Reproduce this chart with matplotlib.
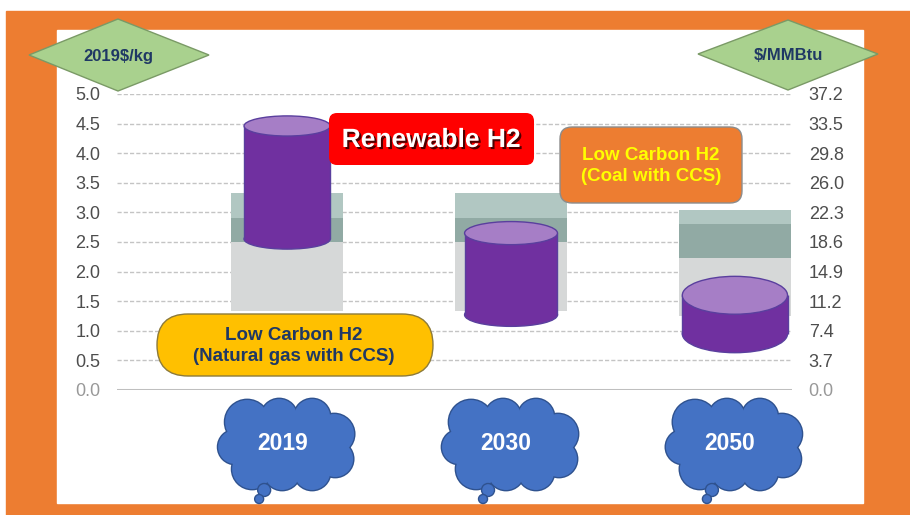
import matplotlib
matplotlib.use("Agg")
import matplotlib.pyplot as plt
import matplotlib.patheffects as pe
from matplotlib.patches import Rectangle, Ellipse, Polygon, FancyBboxPatch, Circle
import numpy as np

plt.rcParams['font.family'] = ['Liberation Sans', 'DejaVu Sans']

# data ($/kg, 2019 dollars)
years = ["2019", "2030", "2050"]
ng_ccs_low = [1.33, 1.33, 1.25]
ng_ccs_high = [2.91, 2.91, 2.80]
coal_ccs_low = [2.50, 2.50, 2.23]
coal_ccs_high = [3.33, 3.33, 3.04]
renew_low = [2.55, 1.27, 0.95]
renew_high = [4.46, 2.65, 1.60]
kg_to_mmbtu = 7.44
left_ticks = [0.0, 0.5, 1.0, 1.5, 2.0, 2.5, 3.0, 3.5, 4.0, 4.5, 5.0]

# cylinder look (perspective differs per cylinder)
cyl_width = [0.385, 0.415, 0.47]
cyl_cap = [0.34, 0.39, 0.64]

W, H = 910, 515
fig = plt.figure(figsize=(9.1, 5.15), dpi=100)

# orange frame + white panel
bg = fig.add_axes([0, 0, 1, 1])
bg.set_xlim(0, W)
bg.set_ylim(H, 0)
bg.axis('off')
bg.set_zorder(0)
bg.add_patch(Rectangle((6, 11), 904, 504, color='#ED7D31'))
bg.add_patch(Rectangle((57, 30), 806, 473, color='white'))

ax = fig.add_axes([117 / W, (H - 390) / H, (792 - 117) / W, (390 - 94) / H])
ax.set_zorder(1)
ax.patch.set_alpha(0)
x = np.arange(len(years))
ax.set_xlim(-0.76, 2.255)
ax.set_ylim(0, 5)

ax.grid(axis='y', color='#C4C4C4', lw=1, ls=(0, (3, 1.5)), zorder=0)
ax.set_axisbelow(True)
ax.axhline(0, color='#BFBFBF', lw=2.2, zorder=1)

ng_low = np.array(ng_ccs_low)
ng_high = np.array(ng_ccs_high)
c_low = np.array(coal_ccs_low)
c_high = np.array(coal_ccs_high)
ax.bar(x, c_low - ng_low, bottom=ng_low, width=0.5, color='#D6D8D8', zorder=2)
ax.bar(x, ng_high - c_low, bottom=c_low, width=0.5, color='#91AAA4', zorder=2)
ax.bar(x, c_high - ng_high, bottom=ng_high, width=0.5, color='#B1C7C2', zorder=2)

body = '#7030A0'
cap = '#A67EC6'
edge = '#5A3F9E'
for i in range(len(years)):
    lo, hi, w, h = renew_low[i], renew_high[i], cyl_width[i], cyl_cap[i]
    ax.add_patch(Ellipse((x[i], lo), w, h, fc=body, ec=edge, lw=1, zorder=3))
    ax.bar(x[i], hi - lo, bottom=lo, width=w, color=body, zorder=4)
    ax.vlines([x[i] - w / 2, x[i] + w / 2], lo, hi, color=edge, lw=1, zorder=5)
    ax.add_patch(Ellipse((x[i], hi), w, h, fc=cap, ec=edge, lw=1, zorder=6))

ax.set_xticks([])
ax.set_yticks(left_ticks)
ax.set_yticklabels([f"{v:.1f}" for v in left_ticks])
ax.tick_params(axis='y', length=0, pad=12, labelsize=13, labelcolor='#4D4D4D')
for s in ax.spines.values():
    s.set_visible(False)

ax2 = ax.twinx()
ax2.set_zorder(1.5)
ax2.patch.set_alpha(0)
ax2.set_ylim(0, 5 * kg_to_mmbtu)
right_ticks = [v * kg_to_mmbtu for v in left_ticks]
ax2.set_yticks(right_ticks)
ax2.set_yticklabels([f"{v:.1f}" for v in right_ticks])
ax2.tick_params(axis='y', length=0, pad=12, labelsize=13, labelcolor='#4D4D4D')
for s in ax2.spines.values():
    s.set_visible(False)
ax.get_yticklabels()[0].set_color('#999999')
ax2.get_yticklabels()[0].set_color('#999999')

# overlay in pixel coordinates for callouts
ov = fig.add_axes([0, 0, 1, 1])
ov.set_xlim(0, W)
ov.set_ylim(H, 0)
ov.axis('off')
ov.set_zorder(3)
ov.patch.set_alpha(0)

navy = '#1F3864'
ov.add_patch(Polygon([(29, 55), (118, 19), (209, 55), (118, 91)], closed=True,
                     fc='#A9D18E', ec='#7A9A66', lw=1))
ov.text(118, 56, "2019$/kg", ha='center', va='center', fontsize=12,
        fontweight='bold', color=navy)
ov.add_patch(Polygon([(698, 54), (788, 20), (878, 54), (788, 90)], closed=True,
                     fc='#A9D18E', ec='#7A9A66', lw=1))
ov.text(788, 56, "$/MMBtu", ha='center', va='center', fontsize=12,
        fontweight='bold', color=navy)

ov.add_patch(FancyBboxPatch((329, 113), 205, 52, boxstyle="round,pad=0,rounding_size=8",
                            fc='#FF0000', ec='none'))
ov.text(431, 140, "Renewable H2", ha='center', va='center', fontsize=19,
        fontweight='bold', color='white',
        path_effects=[pe.withSimplePatchShadow(offset=(1.5, -1.5), shadow_rgbFace='black', alpha=0.7)])

ov.add_patch(FancyBboxPatch((560, 127), 182, 76, boxstyle="round,pad=0,rounding_size=12",
                            fc='#ED7D31', ec='#8C8C8C', lw=1))
ov.text(651, 166, "Low Carbon H2\n(Coal with CCS)", ha='center', va='center',
        fontsize=13.5, fontweight='bold', color='#FFFF00', linespacing=1.25)

ov.add_patch(FancyBboxPatch((157, 314), 276, 62, boxstyle="round,pad=0,rounding_size=31",
                            fc='#FFC000', ec='#8C7A3A', lw=1))
ov.text(294, 346, "Low Carbon H2\n(Natural gas with CCS)", ha='center', va='center',
        fontsize=13.5, fontweight='bold', color=navy, linespacing=1.25)

# year clouds under each category
blue = '#4472C4'
blue_edge = '#2F528F'
lobes = [(-40, -22, 22), (-8, -27, 18), (25, -27, 18), (47, -10, 20), (48, 15, 18),
         (25, 28, 18), (-5, 28, 18), (-35, 25, 20), (-52, 3, 17)]
disp = ax.transData.transform(np.column_stack([x, np.zeros(len(x))]))
for i, yr in enumerate(years):
    cx, cy = disp[i, 0], 444
    for dx, dy, r in lobes:
        ov.add_patch(Circle((cx + dx, cy + dy), r, fc=blue, ec=blue_edge, lw=2, zorder=4))
    for dx, dy, r in lobes:
        ov.add_patch(Circle((cx + dx, cy + dy), r, fc=blue, ec='none', zorder=5))
    ov.add_patch(Ellipse((cx, cy), 100, 60, fc=blue, ec='none', zorder=5))
    ov.add_patch(Circle((cx - 23, cy + 46), 6.5, fc=blue, ec=blue_edge, lw=1, zorder=6))
    ov.add_patch(Circle((cx - 28, cy + 55), 4.5, fc=blue, ec=blue_edge, lw=1, zorder=6))
    ov.text(cx - 5, cy, yr, ha='center', va='center', fontsize=16.5,
            fontweight='bold', color='white', zorder=7)

fig.savefig("out.png", dpi=100)
